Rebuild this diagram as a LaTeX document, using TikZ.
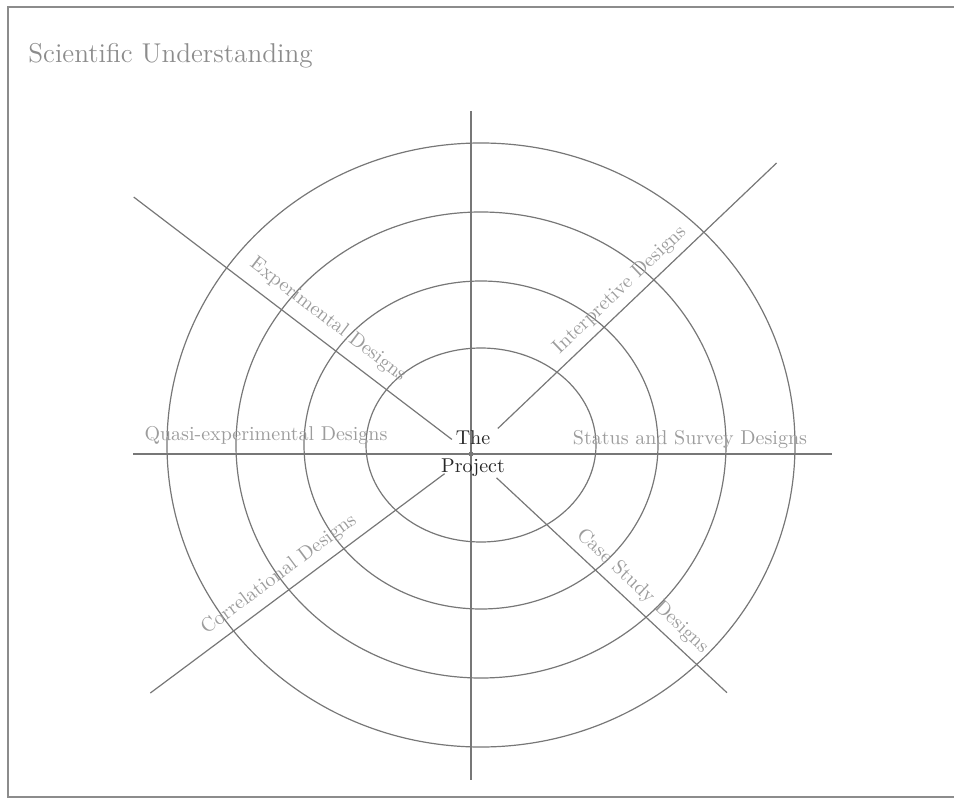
\documentclass[tikz,border=0pt]{standalone}
\usepackage{tikz}
\usetikzlibrary{calc}
\definecolor{frame}{HTML}{8C8C8C}
\definecolor{rule}{HTML}{777777}
\definecolor{label}{HTML}{9C9C9C}

\begin{document}
\begin{tikzpicture}[x=0.5pt,y=0.5pt,
  ring/.style={draw=rule,line width=0.6pt},
  spoke/.style={draw=rule,line width=0.6pt},
  lab/.style={text=label,font=\fontsize{10}{12}\selectfont,inner sep=0pt}]
\useasboundingbox (0,0) rectangle (954,800);

% Frame is open on the right; title sits in the top left corner.
\draw[frame,line width=0.8pt] (954,793) -- (8,793) -- (8,3) -- (954,3);
\node[lab,text=frame,font=\fontsize{13.6}{15}\selectfont,anchor=base west] (title) at (28,737) {Scientific Understanding};

\coordinate (C) at (471,346);
\coordinate (O) at (481,355);

% Four concentric rings around the project.
\foreach \rx/\ry in {115/97,177/164,245/233,314/302}
  \draw[ring] (O) ellipse [x radius=\rx, y radius=\ry];

% Axes through the centre.
\coordinate (top) at (471,689);
\coordinate (bot) at (471,20);
\coordinate (west) at (133,346);
\coordinate (east) at (832,346);
\draw[spoke] (top) -- (bot);
\draw[spoke] (west) -- (east);

% Diagonal spokes stop short of the centre label.
\coordinate (exp-in) at ($(C)+(142.7:24)$);   \coordinate (exp-out) at ($(C)+(142.7:424)$);
\coordinate (int-in) at ($(C)+(43.6:37)$);    \coordinate (int-out) at ($(C)+(43.6:422)$);
\coordinate (cor-in) at ($(C)+(216.7:33)$);   \coordinate (cor-out) at ($(C)+(216.7:400)$);
\coordinate (cas-in) at ($(C)+(-43:35)$);     \coordinate (cas-out) at ($(C)+(-43:350)$);
\draw[spoke] (exp-in) -- (exp-out);
\draw[spoke] (int-in) -- (int-out);
\draw[spoke] (cor-in) -- (cor-out);
\draw[spoke] (cas-in) -- (cas-out);
\fill[rule] (C) circle (2.5);

\node[font=\fontsize{10}{14}\selectfont,align=center,text=black!85,inner sep=0pt] (project) at (473,346) {The\\Project};

% Design labels along the spokes.
\node[lab,anchor=base] (quasi) at (266,360) {Quasi-experimental Designs};
\node[lab,anchor=base] (status) at (690,356) {Status and Survey Designs};
\node[lab,rotate=-37.3] (exper) at ($(C)+(142.7:195)+(52.7:20)$) {Experimental Designs};
\node[lab,rotate=43.6] (interp) at ($(C)+(43.6:221)+(133.6:16)$) {Interpretive Designs};
\node[lab,rotate=36.7] (correl) at ($(C)+(216.7:226)+(126.7:18)$) {Correlational Designs};
\node[lab,rotate=-43] (casest) at ($(C)+(-43:219)+(47:16.5)$) {Case Study Designs};
\end{tikzpicture}
\end{document}
